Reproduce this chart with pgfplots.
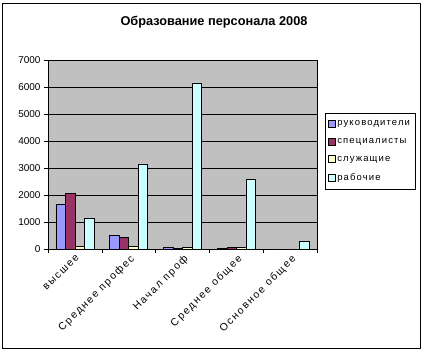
\documentclass[border=0pt]{standalone}
\usepackage{pgfplots}
\pgfplotsset{compat=1.18}
\usepackage{fontspec}
\setmainfont{Liberation Sans}
\newfontfamily\lsfont[LetterSpace=12]{Liberation Sans}
\newfontfamily\lxfont[LetterSpace=16]{Liberation Sans}
\definecolor{cA}{HTML}{9999FF}
\definecolor{cB}{HTML}{993366}
\definecolor{cC}{HTML}{FFFFCC}
\definecolor{cD}{HTML}{CCFFFF}
\definecolor{bgc}{HTML}{C0C0C0}
\begin{document}
\begin{tikzpicture}
\useasboundingbox (0,0) rectangle (423bp,353bp);
\draw[line width=0.8bp] (2.5bp,4.5bp) rectangle (420.5bp,349.5bp);
\node[font=\fontsize{12.8}{14}\selectfont\bfseries] at (214bp,331bp) {Образование персонала 2008};
\begin{axis}[
  at={(48bp,104bp)}, anchor=south west,
  width=269bp, height=189bp, scale only axis,
  ybar=0pt, bar width=9.5bp,
  xmin=-0.5, xmax=4.5, ymin=0, ymax=7000,
  ytick={0,1000,...,7000},
  xtick={0,1,2,3,4},
  xticklabels={высшее, Среднее профес, Начал проф, Среднее общее, Основное общее},
  x tick label style={rotate=45, anchor=north east, inner sep=1bp, xshift=1bp, font=\lxfont\fontsize{10.5}{12}\selectfont},
  major x tick style={draw=none},
  minor xtick={-0.5,0.5,1.5,2.5,3.5,4.5},
  tick align=outside, tick pos=left,
  major tick length=4bp, minor tick length=4bp,
  tick style={black, line width=0.6bp},
  ymajorgrids, grid style={black, line width=0.6bp},
  axis background/.style={fill=bgc},
  axis line style={draw=gray},
  separate axis lines,
  x axis line style={draw=black},
  y axis line style={draw=black},
  y tick label style={font=\fontsize{10}{12}\selectfont},
  /pgf/number format/assume math mode=true,
  /pgf/number format/set thousands separator={},
  legend style={at={(1.028,0.717)}, anchor=north west, draw=black, line width=0.6bp,
    font=\lsfont\fontsize{9.5}{11}\selectfont, inner xsep=3bp, inner ysep=5bp,
    row sep=7bp, cells={anchor=west}},
  legend image code/.code={\draw[#1, line width=0.5bp] (0bp,-3.5bp) rectangle (7bp,3.5bp);},
]
\addplot[fill=cA, draw=black, line width=0.5bp] coordinates {(0,1650) (1,500) (2,75) (3,15) (4,0)};
\addplot[fill=cB, draw=black, line width=0.5bp] coordinates {(0,2050) (1,430) (2,25) (3,50) (4,0)};
\addplot[fill=cC, draw=black, line width=0.5bp] coordinates {(0,100) (1,100) (2,70) (3,55) (4,0)};
\addplot[fill=cD, draw=black, line width=0.5bp] coordinates {(0,1130) (1,3150) (2,6150) (3,2590) (4,280)};
\legend{руководители, специалисты, служащие, рабочие}
\end{axis}
\end{tikzpicture}
\end{document}
